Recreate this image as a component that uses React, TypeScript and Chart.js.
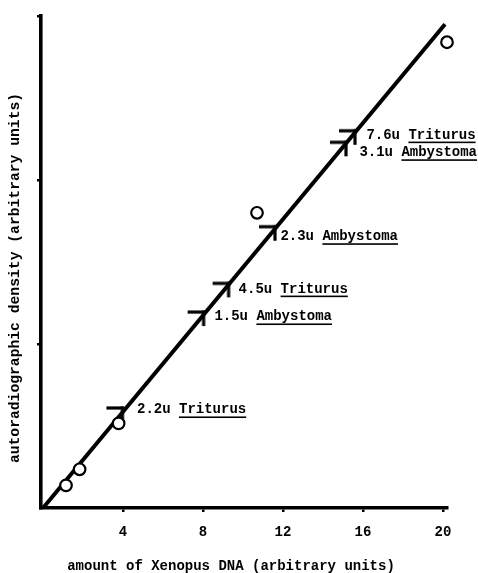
import React, { useEffect, useRef } from 'react';
import { Chart, registerables } from 'chart.js';

Chart.register(...registerables);

// ---- data ----
const xTicks = [4, 8, 12, 16, 20];
const yTicks = [1, 2, 3];
const fitX = [0, 20.1];
const fitY = [0, 2.95];
const pointX = [1.15, 1.83, 3.78, 10.7, 20.2];
const pointY = [0.138, 0.236, 0.516, 1.8, 2.84];
const markerX = [3.97, 8.03, 9.28, 11.6, 15.15, 15.6];
const markerY = [0.61, 1.195, 1.37, 1.715, 2.23, 2.3];
const labelSizes = ['2.2u', '1.5u', '4.5u', '2.3u', '3.1u', '7.6u'];
const labelSpecies = ['Triturus', 'Ambystoma', 'Triturus', 'Ambystoma', 'Ambystoma', 'Triturus'];
const labelX = [4.7, 8.57, 9.78, 11.87, 15.82, 16.17];
const labelY = [0.598, 1.165, 1.335, 1.654, 2.166, 2.274];
const xTitle = 'amount of Xenopus DNA (arbitrary units)';
const yTitle = 'autoradiographic density (arbitrary units)';

const FONT = '"Liberation Mono", "DejaVu Sans Mono", monospace';

function makeMarker(): HTMLCanvasElement {
  const c = document.createElement('canvas');
  c.width = 40;
  c.height = 40;
  const g = c.getContext('2d')!;
  g.strokeStyle = '#000';
  g.lineWidth = 3.2;
  g.beginPath();
  g.moveTo(4, 20);
  g.lineTo(21.6, 20);
  g.stroke();
  g.beginPath();
  g.moveTo(20, 18.4);
  g.lineTo(20, 34);
  g.stroke();
  return c;
}

const textPlugin = {
  id: 'annotText',
  afterDatasetsDraw(chart: any) {
    const { ctx, scales } = chart;
    const xs = scales.x;
    const ys = scales.y;
    ctx.save();
    ctx.fillStyle = '#000';
    ctx.font = `bold 14px ${FONT}`;
    ctx.textBaseline = 'middle';
    ctx.textAlign = 'left';
    for (let i = 0; i < labelSizes.length; i++) {
      const px = xs.getPixelForValue(labelX[i]);
      const py = ys.getPixelForValue(labelY[i]);
      const pre = labelSizes[i] + ' ';
      ctx.fillText(pre + labelSpecies[i], px, py);
      const w0 = ctx.measureText(pre).width;
      const w1 = ctx.measureText(labelSpecies[i]).width;
      ctx.fillRect(px + w0, py + 6.5, w1, 1.6);
    }
    // axis titles
    ctx.textAlign = 'center';
    ctx.font = `bold 14px ${FONT}`;
    ctx.fillText(xTitle, 231, 566);
    ctx.translate(15, 278);
    ctx.rotate(-Math.PI / 2);
    ctx.font = `bold 14.7px ${FONT}`;
    ctx.fillText(yTitle, 0, 0);
    ctx.restore();
  },
};

export default function App() {
  const ref = useRef<HTMLCanvasElement | null>(null);
  useEffect(() => {
    if (!ref.current) return;
    const marker = makeMarker();
    const chart = new Chart(ref.current, {
      type: 'scatter',
      data: {
        datasets: [
          {
            type: 'scatter',
            data: pointX.map((x, i) => ({ x, y: pointY[i] })),
            pointStyle: 'circle',
            pointRadius: 5.8,
            borderWidth: 2.2,
            borderColor: '#000',
            backgroundColor: '#fff',
            clip: false,
            order: 0,
          } as any,
          {
            type: 'scatter',
            data: markerX.map((x, i) => ({ x, y: markerY[i] })),
            pointStyle: marker,
            pointRadius: 10,
            clip: false,
            order: 1,
          } as any,
          {
            type: 'line',
            data: fitX.map((x, i) => ({ x, y: fitY[i] })),
            borderColor: '#000',
            borderWidth: 4,
            pointRadius: 0,
            fill: false,
            clip: false,
            order: 2,
          } as any,
        ],
      },
      options: {
        responsive: false,
        animation: false,
        events: [],
        layout: { padding: { top: 16, right: 31, left: 0, bottom: 0 } },
        plugins: { legend: { display: false }, tooltip: { enabled: false } },
        scales: {
          x: {
            type: 'linear',
            min: -0.1,
            max: 20.2,
            afterBuildTicks: (s: any) => {
              s.ticks = xTicks.map((v) => ({ value: v }));
            },
            afterFit: (s: any) => {
              s.height = 65;
            },
            grid: {
              display: true,
              drawOnChartArea: false,
              drawTicks: true,
              tickLength: 4,
              color: '#000',
              lineWidth: 2.5,
            },
            border: { display: true, color: '#000', width: 3.6 },
            ticks: {
              color: '#000',
              font: { family: FONT, size: 14, weight: 'bold' },
              padding: 12,
              maxRotation: 0,
              autoSkip: false,
            },
          },
          y: {
            type: 'linear',
            min: 0,
            max: 3,
            afterBuildTicks: (s: any) => {
              s.ticks = yTicks.map((v) => ({ value: v }));
            },
            afterFit: (s: any) => {
              s.width = 41;
            },
            grid: {
              display: true,
              drawOnChartArea: false,
              drawTicks: true,
              tickLength: 4,
              color: '#000',
              lineWidth: 2.5,
            },
            border: { display: true, color: '#000', width: 3.6 },
            ticks: { callback: () => '', padding: 0 },
          },
        },
      } as any,
      plugins: [textPlugin],
    });
    return () => chart.destroy();
  }, []);
  return (
    <div style={{ position: 'fixed', left: 0, top: 0, width: 478, height: 573, background: '#fff' }}>
      <canvas ref={ref} width={478} height={573} style={{ display: 'block' }} />
    </div>
  );
}
